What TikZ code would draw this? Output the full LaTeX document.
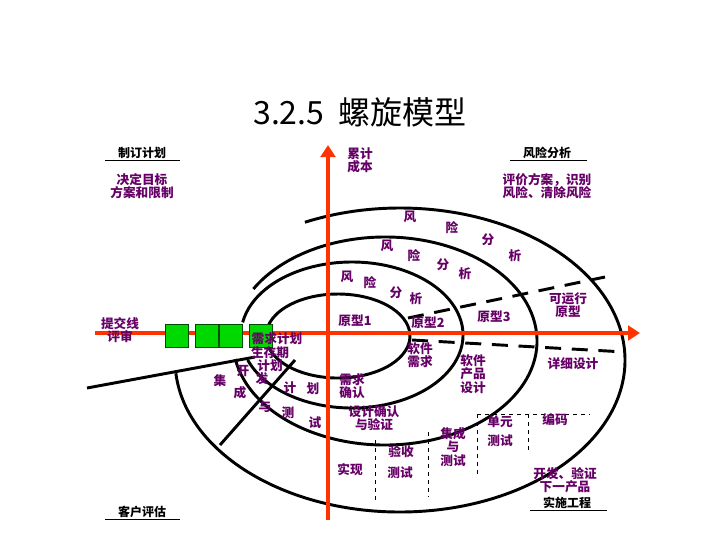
\documentclass[tikz,border=0pt]{standalone}
\usepackage{fontspec}
\setmainfont{Noto Sans CJK SC}
\usetikzlibrary{arrows.meta}
\begin{document}
\begin{tikzpicture}[x=0.75pt,y=-0.75pt,
  lab/.style={text=violet!80!black,font=\fontsize{9.5}{10}\selectfont\bfseries,align=center,inner sep=0pt},
  hd/.style={font=\fontsize{9}{9.5}\selectfont\bfseries,inner sep=1pt},
  ring/.style={line width=2.2pt},
  dsh/.style={line width=2.2pt,dash pattern=on 12pt off 8pt},
  dline/.style={dashed,line width=0.4pt},
  box/.style={draw=black!70!green,fill=green!85!black,minimum width=17pt,minimum height=17pt,inner sep=0pt,line width=0.8pt},
  axis/.style={line width=3pt,draw=orange!40!red,-{Triangle[length=9pt,width=11pt]}}]
\useasboundingbox (0,0) rectangle (720,540);
\node[font=\fontsize{24}{26}\selectfont] (title) at (360,112) {3.2.5\ \ 螺旋模型};
% rings
\draw[ring] (338,336) ++(200:72 and 42) arc[start angle=200,end angle=-180,x radius=72,y radius=42];
\draw[ring] (352,335) ++(160:111 and 73) arc[start angle=160,end angle=-170,x radius=111,y radius=73];
\draw[ring] (385,341) ++(170:152 and 104) arc[start angle=170,end angle=-150,x radius=152,y radius=104];
\draw[ring] (400,360) ++(175:225 and 152) arc[start angle=175,end angle=-115,x radius=225,y radius=152];
% straight lines
\coordinate (l1a) at (87,388); \coordinate (l1b) at (255,357);
\coordinate (l2a) at (295,360); \coordinate (l2b) at (220,445);
\draw[ring] (l1a) -- (l1b);
\draw[ring] (l2a) -- (l2b);
% axes
\coordinate (hx0) at (95,333); \coordinate (hx1) at (640,333);
\coordinate (vy0) at (328,520); \coordinate (vy1) at (328,145);
\draw[axis] (hx0) -- (hx1);
\draw[axis] (vy0) -- (vy1);
% dashed
\coordinate (d1a) at (408,318); \coordinate (d1b) at (605,277);
\coordinate (d2a) at (412,340); \coordinate (d2b) at (625,352);
\draw[dsh] (d1a) -- (d1b);
\draw[dsh] (d2a) -- (d2b);
\foreach \n/\x/\ya/\yb in {a/375/440/503,b/428/432/497,c/477/414/477,d/528/414/450}{
  \coordinate (v\n0) at (\x,\ya); \coordinate (v\n1) at (\x,\yb);
  \draw[dline] (v\n0) -- (v\n1);}
\coordinate (h0) at (477,414); \coordinate (h1) at (590,414);
\draw[dline] (h0) -- (h1);
% boxes
\node[box] (b1) at (177,336) {};
\node[box] (b2) at (207,336) {};
\node[box] (b3) at (231,336) {};
\node[box] (b4) at (261,336) {};
% headers
\node[hd] (h1t) at (142,153) {制订计划};
\draw (105,160) -- (180,160);
\node[hd] (h2t) at (547,153) {风险分析};
\draw (510,160) -- (587,160);
\node[hd] (h3t) at (142,512) {客户评估};
\draw (105,519) -- (180,519);
\node[hd] (h4t) at (567,503) {实施工程};
\draw (530,510) -- (607,510);
% labels
\node[lab] (t1) at (142,186) {决定目标\\方案和限制};
\node[lab] (t2) at (360,160) {累计\\成本};
\node[lab] (t3) at (547,186) {评价方案，识别\\风险、清除风险};
\node[lab] (t4) at (120,330) {提交线\\评审};
\node[lab] (t5) at (568,305) {可运行\\原型};
\node[lab] (t6) at (355,321) {原型1};
\node[lab] (t7) at (428,323) {原型2};
\node[lab] (t8) at (494,317) {原型3};
\node[lab] (t9) at (420,355) {软件\\需求};
\node[lab] (t10) at (473,374) {软件\\产品\\设计};
\node[lab] (t11) at (573,364) {详细设计};
\node[lab] (t12) at (352,386) {需求\\确认};
\node[lab] (t13) at (374,418) {设计确认\\与验证};
\node[lab] (t14) at (500,422) {单元};
\node[lab] (t15) at (555,420) {编码};
\node[lab] (t16) at (500,441) {测试};
\node[lab] (t17) at (453,447) {集成\\与\\测试};
\node[lab] (t18) at (401,452) {验收};
\node[lab] (t19) at (400,473) {测试};
\node[lab] (t20) at (350,470) {实现};
\node[lab] (t21) at (565,480) {开发、验证\\下一产品};
\node[lab] (t22) at (277,339) {需求计划};
\node[lab] (t23) at (270,359) {生存期\\计划};
\foreach \c/\x/\y in {风/410/217,险/452/228,分/488/240,析/515/256,
  风/387/246,险/414/256,分/443/265,析/465/274,
  风/347/277,险/370/283,分/396/293,析/416/299}{\node[lab] at (\x,\y) {\c};}
\foreach \c/\x/\y in {开/243/371,发/262/379,计/290/388,划/313/389,
  集/220/381,成/240/393,与/265/407,测/288/413,试/315/423}{\node[lab] at (\x,\y) {\c};}
\end{tikzpicture}
\end{document}
